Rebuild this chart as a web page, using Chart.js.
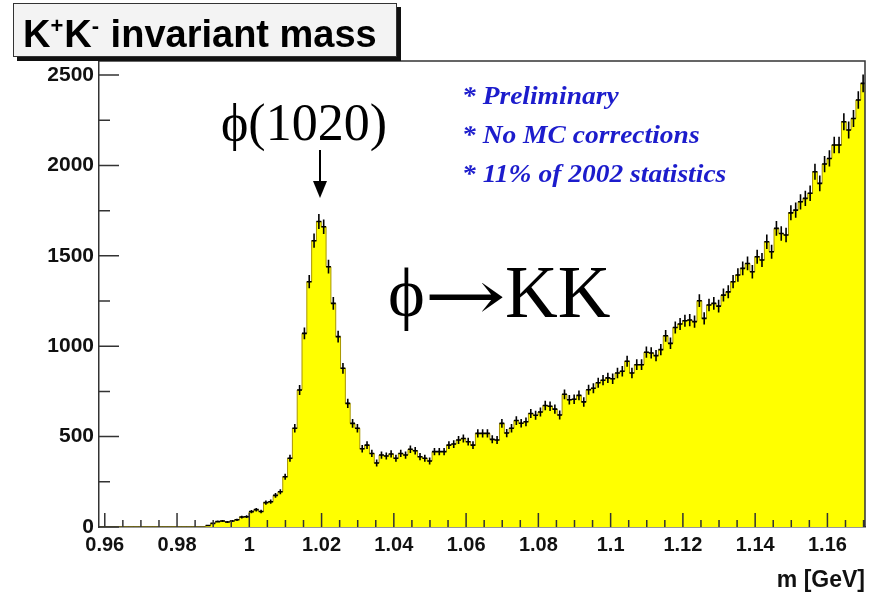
<!DOCTYPE html>
<html><head><meta charset="utf-8">
<script src="https://cdn.jsdelivr.net/npm/chart.js@4.4.1/dist/chart.umd.min.js"></script>
<style>html,body{margin:0;padding:0;background:#fff;overflow:hidden}#c{display:block}</style>
</head><body>
<canvas id="c" width="882" height="597"></canvas>
<script>
// ---- data ----
const binStart = 0.9586;      // GeV, low edge of first bin
const binWidth = 0.001333;    // GeV
const counts = [
  0,0,0,0,0,0,0,0,0,0, 0,0,0,0,0,0,0,0,0,0, 0,0,
  8,20,30,33,28,33,40,55,57,85,96,86,135,140,175,195,278,380,546,758,
  1071,1357,1584,1690,1661,1440,1237,1053,878,684,573,546,433,453,407,354,
  398,393,404,380,407,398,430,422,389,380,365,417,417,417,453,459,481,490,
  472,453,518,518,518,485,481,573,520,546,589,574,582,628,618,636,672,668,
  652,620,734,704,707,728,692,759,768,798,812,825,820,852,862,917,852,898,
  898,967,963,948,981,1058,1016,1104,1123,1141,1145,1136,1252,1154,1228,1237,
  1222,1283,1301,1357,1394,1431,1458,1412,1495,1477,1578,1523,1652,1624,1615,
  1738,1753,1799,1818,1846,1965,1901,2008,2039,2113,2113,2242,2196,2260,2362,2454
];
const xTickValues = [0.96,0.98,1.00,1.02,1.04,1.06,1.08,1.10,1.12,1.14,1.16];
const xTickLabels = ['0.96','0.98','1','1.02','1.04','1.06','1.08','1.1','1.12','1.14','1.16'];
const yTickValues = [0,500,1000,1500,2000,2500];
const yTickLabels = ['0','500','1000','1500','2000','2500'];
const titleParts = ['K','+','K','-',' invariant mass'];
const notes = ['* Preliminary','* No MC corrections','* 11% of 2002 statistics'];
const peakLabel = '\u03D5(1020)';
const decayParts = ['\u03D5','\u2192','KK'];
const xTitle = 'm [GeV]';

// ---- build datasets from the arrays ----
const histPts = counts.map((c,i)=>({x: binStart + i*binWidth, y: c}));
histPts.push({x: binStart + counts.length*binWidth, y: counts[counts.length-1]});
const errPts = [];
counts.forEach((c,i)=>{
  if (c <= 0) return;
  const xc = binStart + (i+0.5)*binWidth, e = Math.sqrt(c);
  errPts.push({x:xc,y:c-e},{x:xc,y:c+e},{x:xc,y:null},
              {x:xc-binWidth/2,y:c},{x:xc+binWidth/2,y:c},{x:xc,y:null});
});

const SANS = '"Liberation Sans", Arial, Helvetica, sans-serif';
const SERIF = '"Liberation Serif", "DejaVu Serif", "Times New Roman", serif';

const decor = {
  id: 'decor',
  afterDatasetsDraw(chart){
    const ctx = chart.ctx, a = chart.chartArea, xs = chart.scales.x, ys = chart.scales.y;
    ctx.save();
    ctx.strokeStyle = '#333'; ctx.lineWidth = 1.5;
    ctx.beginPath();
    ctx.moveTo(a.left, a.top); ctx.lineTo(a.right, a.top); ctx.lineTo(a.right, a.bottom);
    yTickValues.forEach(v=>{ const p = ys.getPixelForValue(v); ctx.moveTo(a.left, p); ctx.lineTo(a.left+20, p); });
    for (let v = 250; v < ys.max; v += 500) { const p = ys.getPixelForValue(v); ctx.moveTo(a.left, p); ctx.lineTo(a.left+11, p); }
    xTickValues.forEach(v=>{ const p = xs.getPixelForValue(v); ctx.moveTo(p, a.bottom); ctx.lineTo(p, a.bottom-14); });
    for (let k = 0; k < 60; k++) {
      const v = 0.955 + k*0.005;
      if (v < xs.min || v > xs.max) continue;
      if (k % 4 === 1) continue;
      const p = xs.getPixelForValue(v); ctx.moveTo(p, a.bottom); ctx.lineTo(p, a.bottom-7);
    }
    ctx.stroke();
    ctx.restore();
  },
  afterDraw(chart){
    const ctx = chart.ctx;
    ctx.save();
    ctx.fillStyle = '#111'; ctx.fillRect(17, 7, 384, 54);
    ctx.fillStyle = '#f3f3f3'; ctx.fillRect(13, 3, 384, 54);
    ctx.strokeStyle = '#333'; ctx.lineWidth = 1; ctx.strokeRect(13.5, 3.5, 383, 53);
    ctx.fillStyle = '#000'; ctx.textBaseline = 'alphabetic'; ctx.textAlign = 'left';
    let x = 23;
    const big = 'bold 38px ' + SANS, sup = 'bold 22px ' + SANS;
    titleParts.forEach((t, i)=>{
      const isSup = (i === 1 || i === 3);
      ctx.font = isSup ? sup : big;
      ctx.fillText(t, x, isSup ? 33 : 47);
      x += ctx.measureText(t).width + (isSup ? 1 : 0);
    });
    // notes
    ctx.fillStyle = '#1c1ccc'; ctx.font = 'italic bold 25px ' + SERIF;
    [104, 143, 182].forEach((y, i)=>{
      ctx.save(); ctx.translate(462, y); ctx.scale(1.1, 1);
      ctx.fillText(notes[i], 0, 0); ctx.restore();
    });
    // peak label and arrow
    ctx.fillStyle = '#000'; ctx.font = '52px ' + SERIF; ctx.textAlign = 'center';
    ctx.fillText(peakLabel, 304, 140);
    ctx.strokeStyle = '#000'; ctx.lineWidth = 2;
    ctx.beginPath(); ctx.moveTo(320, 150); ctx.lineTo(320, 185); ctx.stroke();
    ctx.beginPath(); ctx.moveTo(313, 181); ctx.lineTo(327, 181); ctx.lineTo(320, 198); ctx.closePath(); ctx.fill();
    // decay label
    ctx.textAlign = 'left'; ctx.font = '70px ' + SERIF;
    ctx.fillText(decayParts[0], 388, 316);
    ctx.save();
    ctx.font = '70px "DejaVu Serif", ' + SERIF;
    const aw = ctx.measureText(decayParts[1]).width;
    ctx.translate(424, 0); ctx.scale(82/aw, 1);
    ctx.fillText(decayParts[1], 0, 320);
    ctx.restore();
    ctx.font = '73px ' + SERIF;
    ctx.fillText(decayParts[2], 505, 317);
    ctx.restore();
  }
};

new Chart(document.getElementById('c'), {
  type: 'line',
  data: { datasets: [
    { label: 'errors', data: errPts, borderColor: '#000', borderWidth: 1.6, pointRadius: 0, spanGaps: false, fill: false, order: 0 },
    { label: 'K+K- mass', data: histPts, stepped: 'before', fill: 'origin', backgroundColor: '#ffff00', borderColor: '#a89600', borderWidth: 1, pointRadius: 0, order: 1 }
  ]},
  options: {
    responsive: false, animation: false, devicePixelRatio: 1,
    layout: { padding: { top: 61, right: 17, left: 0, bottom: 0 } },
    plugins: { legend: { display: false }, tooltip: { enabled: false } },
    elements: { line: { tension: 0 } },
    scales: {
      x: {
        type: 'linear', min: 0.9584, max: 1.1704,
        afterBuildTicks: s => { s.ticks = xTickValues.map(v=>({value:v})); },
        afterFit: s => { s.height = 70; },
        ticks: { callback: (v, i) => xTickLabels[i], autoSkip: false, maxRotation: 0, padding: 6,
                 font: { family: SANS, size: 20, weight: 'bold' }, color: '#111' },
        grid: { drawOnChartArea: false, drawTicks: false },
        border: { color: '#333', width: 1.5 },
        title: { display: true, text: xTitle, align: 'end', color: '#111',
                 font: { family: SANS, size: 23, weight: 'bold' }, padding: { top: 0, bottom: 3 } }
      },
      y: {
        type: 'linear', min: 0, max: 2578,
        afterBuildTicks: s => { s.ticks = yTickValues.map(v=>({value:v})); },
        afterFit: s => { s.width = 99; },
        ticks: { callback: (v, i) => yTickLabels[i], autoSkip: false, padding: 5,
                 font: { family: SANS, size: 21, weight: 'bold' }, color: '#111' },
        grid: { drawOnChartArea: false, drawTicks: false },
        border: { color: '#333', width: 1.5 }
      }
    }
  },
  plugins: [decor]
});
</script>
</body></html>
